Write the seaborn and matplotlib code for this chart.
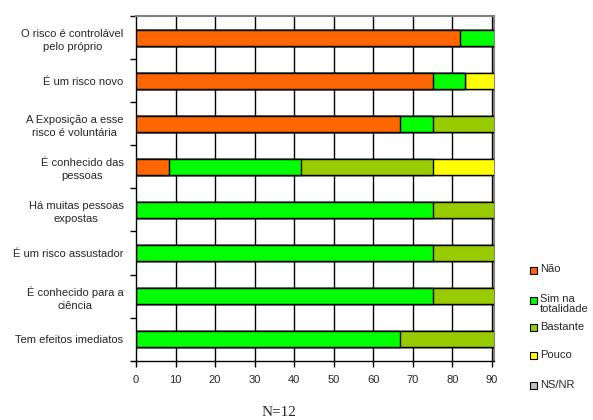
import matplotlib
matplotlib.use("Agg")
import matplotlib.pyplot as plt
from matplotlib.patches import Rectangle
import seaborn as sns
import pandas as pd
import numpy as np

categories = ["O risco é controlável\npelo próprio", "É um risco novo",
              "A Exposição a esse\nrisco é voluntária", "É conhecido das\npessoas",
              "Há muitas pessoas\nexpostas", "É um risco assustador",
              "É conhecido para a\nciência", "Tem efeitos imediatos"]
series = ["Não", "Sim na\ntotalidade", "Bastante", "Pouco", "NS/NR"]
nao = [81.8, 75.0, 66.7, 8.3, 0, 0, 0, 0]
sim = [18.2, 8.3, 8.3, 33.4, 75.0, 75.0, 75.0, 66.7]
bastante = [0, 0, 25.0, 33.3, 25.0, 25.0, 25.0, 33.3]
pouco = [0, 16.7, 0, 25.0, 0, 0, 0, 0]
nsnr = [0, 0, 0, 0, 0, 0, 0, 0]
colors = ["#FF6600", "#00FF00", "#99CC00", "#FFFF00", "#C0C0C0"]
xticks = [0, 10, 20, 30, 40, 50, 60, 70, 80, 90]

sns.set_style("white")
plt.rcParams['font.family'] = ['Liberation Sans', 'DejaVu Sans']

W, H = 593, 420
fig = plt.figure(figsize=(W / 100, H / 100), dpi=100)
ax = fig.add_axes([0.2293, 0.1412, 0.6037, 0.8207])

vals = np.array([nao, sim, bastante, pouco, nsnr])
cum = np.cumsum(vals, axis=0)
for i in range(len(series) - 1, -1, -1):
    df = pd.DataFrame({"cat": categories, "v": cum[i]})
    sns.barplot(data=df, y="cat", x="v", orient="h", color=colors[i],
                width=0.37, edgecolor="black", linewidth=1.0,
                saturation=1, ax=ax, zorder=3)

ax.set_xlim(0, 90.5)
ax.set_ylim(len(categories) - 0.5, -0.5)
ax.set_xticks(xticks)
ax.set_xticklabels([str(t) for t in xticks], fontsize=8)
ax.set_xlabel("")
ax.set_ylabel("")
ax.set_yticks(range(len(categories)))
ax.set_yticklabels(categories, fontsize=8, ha="right", multialignment="center",
                   linespacing=1.45)
ax.tick_params(axis="y", which="major", length=0, pad=9)
ax.set_yticks(np.arange(-0.5, len(categories), 1.0), minor=True)
ax.tick_params(axis="y", which="minor", length=4, width=1, color="black", direction="out", left=True)
ax.tick_params(axis="x", which="major", length=4, width=1, color="black", direction="out", bottom=True, pad=6)
for t in xticks[1:]:
    ax.axvline(t, color="black", linewidth=1.0, zorder=1)
for s in ["left", "bottom"]:
    ax.spines[s].set_color("black")
    ax.spines[s].set_linewidth(1.0)
for s in ["right", "top"]:
    ax.spines[s].set_color("#808080")
    ax.spines[s].set_linewidth(1.5)
ax.grid(False)

# manual legend (equally spaced entries, as in the reference)
leg_y = [270, 300, 327, 355, 385]
msz = 7
for lab, col, yy in zip(series, colors, leg_y):
    fig.patches.append(Rectangle(((533 - msz / 2) / W, 1 - (yy + msz / 2) / H),
                                 msz / W, msz / H, facecolor=col, edgecolor="black",
                                 linewidth=0.8, transform=fig.transFigure, figure=fig))
    fig.text(540 / W, 1 - (yy - 5.5) / H, lab, fontsize=8, ha="left", va="top",
             linespacing=1.0)

fig.text(0.47, 1 - 412 / H, "N=12", fontsize=11, family=["Liberation Serif", "DejaVu Serif"],
         ha="center", va="center")

fig.savefig("out.png", dpi=100)
